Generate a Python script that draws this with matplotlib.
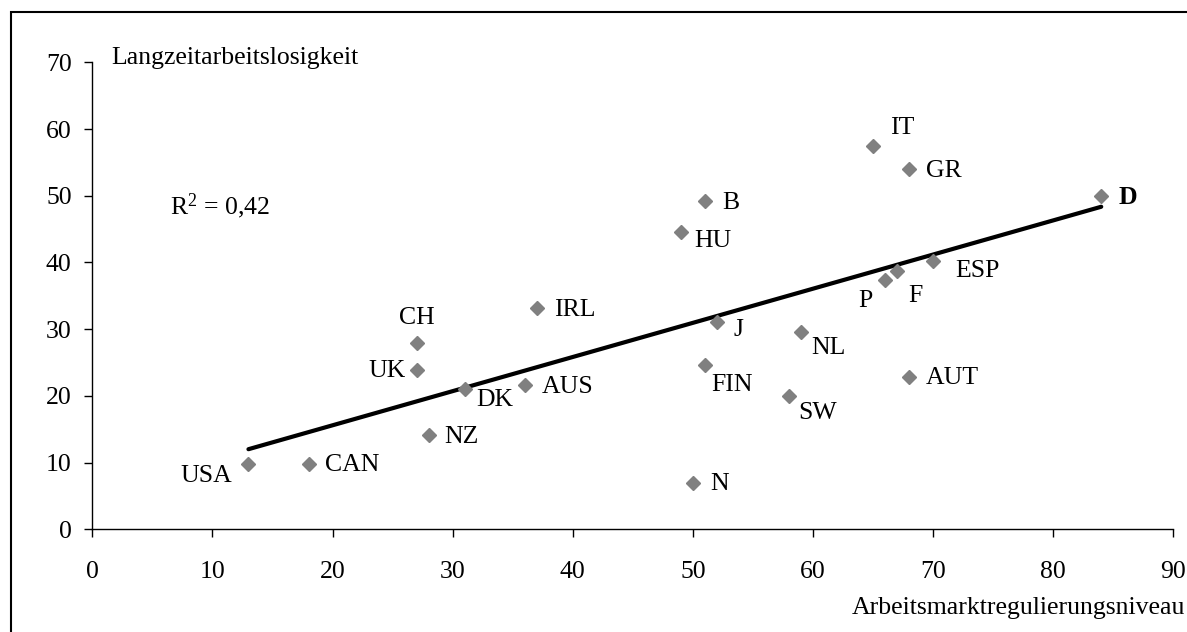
import numpy as np
import matplotlib.pyplot as plt
from matplotlib.patches import Rectangle

plt.rcParams['font.family'] = ['Liberation Serif', 'DejaVu Serif']
plt.rcParams['mathtext.fontset'] = 'custom'
plt.rcParams['mathtext.rm'] = 'Liberation Serif'
plt.rcParams['mathtext.default'] = 'regular'

# Data
countries = ['USA', 'CAN', 'NZ', 'UK', 'CH', 'DK', 'AUS', 'IRL', 'HU', 'B', 'N',
             'FIN', 'J', 'SW', 'NL', 'IT', 'P', 'F', 'GR', 'AUT', 'ESP', 'D']
regulation = [13, 18, 28, 27, 27, 31, 36, 37, 49, 51, 50,
              51, 52, 58, 59, 65, 66, 67, 68, 68, 70, 84]
longterm = [9.8, 9.8, 14.1, 23.9, 27.9, 21.1, 21.6, 33.1, 44.6, 49.2, 7.0,
            24.7, 31.0, 20.0, 29.5, 57.5, 37.4, 38.7, 54.0, 22.9, 40.2, 50.0]
r2_text = 'R$^2$ = 0,42'

# label offsets in pixels (dx right, dy up) and horizontal alignment
label_pos = {
    'USA': (-16, -11, 'right'), 'CAN': (16, 0, 'left'), 'NZ': (16, 0, 'left'),
    'UK': (-11, 0, 'right'), 'CH': (0, 27, 'center'), 'DK': (12, -10, 'left'),
    'AUS': (17, 0, 'left'), 'IRL': (17, 0, 'left'), 'HU': (13, -8, 'left'),
    'B': (17, 0, 'left'), 'N': (17, 0, 'left'), 'FIN': (6, -19, 'left'),
    'J': (17, -6, 'left'), 'SW': (9, -16, 'left'), 'NL': (10, -14, 'left'),
    'IT': (17, 19, 'left'), 'P': (-13, -20, 'right'), 'F': (11, -23, 'left'),
    'GR': (17, 0, 'left'), 'AUT': (17, 0, 'left'), 'ESP': (22, -8, 'left'),
    'D': (17, 0, 'left'),
}

W, H = 1187, 632
fig = plt.figure(figsize=(W / 100, H / 100), dpi=100)
ax = fig.add_axes([92.3 / W, (H - 529.3) / H, 1081 / W, 467 / H])

x = np.array(regulation, dtype=float)
y = np.array(longterm, dtype=float)

# trendline (least squares), drawn over the data range
slope, icpt = np.polyfit(x, y, 1)
xs = np.array([x.min(), x.max()])
ax.plot(xs, slope * xs + icpt, color='black', lw=3, solid_capstyle='round', zorder=2)

ax.plot(x, y, 'D', color='#808080', ms=6.8, mec='#808080', zorder=3)

fs = 18.5
for name, xi, yi in zip(countries, x, y):
    dx, dy, ha = label_pos[name]
    ax.annotate(name, (xi, yi), xytext=(dx * 0.72, (dy - 1.5) * 0.72),
                textcoords='offset points', ha=ha, va='center', fontsize=fs,
                fontweight='bold' if name == 'D' else 'normal')

ax.set_xlim(0, 90)
ax.set_ylim(0, 70)
ax.set_xticks(range(0, 91, 10))
ax.set_yticks(range(0, 71, 10))
ax.spines['top'].set_visible(False)
ax.spines['right'].set_visible(False)
ax.spines['left'].set_linewidth(1)
ax.spines['bottom'].set_linewidth(1)
ax.tick_params(axis='both', length=5.8, width=1, labelsize=fs)
ax.tick_params(axis='x', pad=17)
ax.tick_params(axis='y', pad=9)

fig.text(111.7 / W, 1 - 58.3 / H, 'Langzeitarbeitslosigkeit', fontsize=fs,
         ha='left', va='center')
fig.text(1185 / W, 1 - 608 / H, 'Arbeitsmarktregulierungsniveau', fontsize=fs,
         ha='right', va='center')
fig.text(170 / W, 1 - 206.7 / H, r2_text, fontsize=fs, ha='left', va='center')

# outer frame (only left and top edges fall inside the picture)
fig.add_artist(Rectangle((11 / W, -0.2), 2, 1.2 - 12.3 / H, transform=fig.transFigure,
                         fill=False, edgecolor='black', lw=1.5))

fig.savefig('out.png', dpi=100)
